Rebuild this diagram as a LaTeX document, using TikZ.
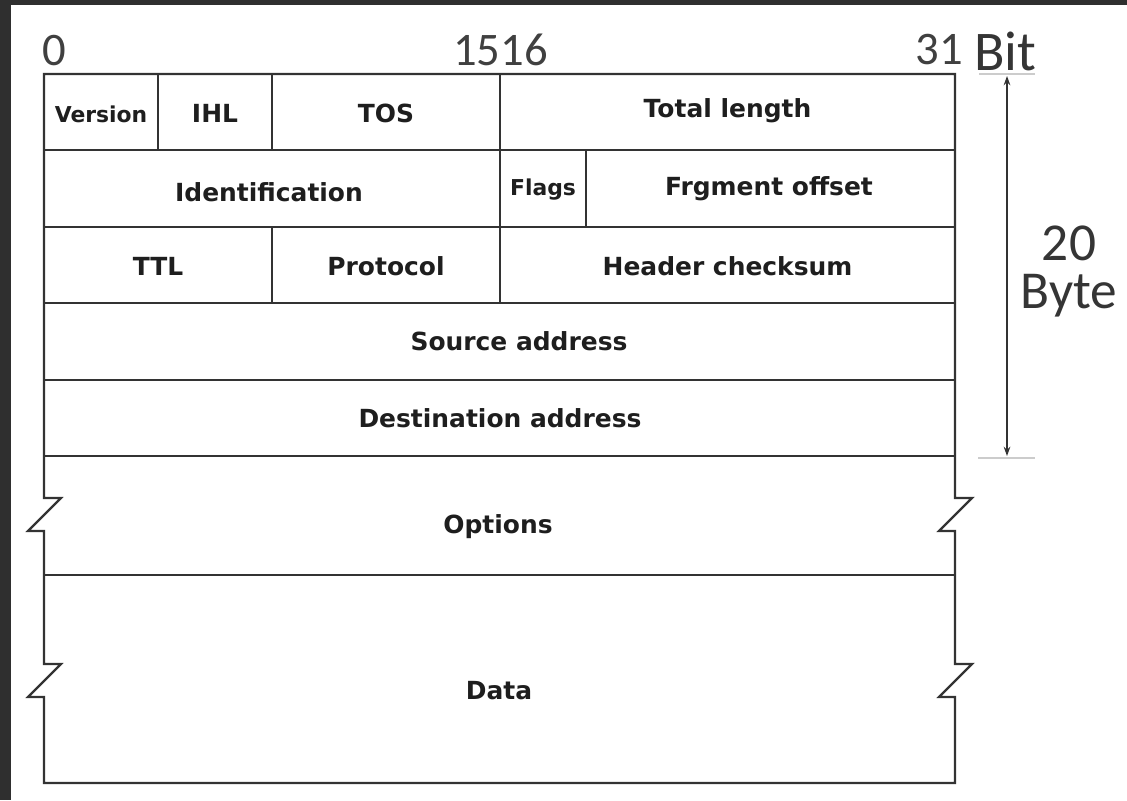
\documentclass[tikz,border=0pt]{standalone}
\usepackage{fontspec}
\setmainfont{DejaVu Sans}
\newfontfamily\calib{Carlito}
\usetikzlibrary{arrows.meta}
\definecolor{framebg}{HTML}{2F2F2F}
\definecolor{linecol}{HTML}{333333}
\definecolor{txtcol}{HTML}{1E1E1E}
\begin{document}
\begin{tikzpicture}[x=0.75pt,y=-0.75pt,
  frame/.style={line width=1.7pt, draw=linecol, line join=miter},
  cell/.style={font=\fontsize{18.7}{22}\selectfont\bfseries, text=txtcol, anchor=base, inner sep=0pt},
  smallcell/.style={font=\fontsize{16.4}{20}\selectfont\bfseries, text=txtcol, anchor=base, inner sep=0pt},
  num/.style={font=\calib\fontsize{35}{40}\selectfont, text=txtcol!85, inner sep=0pt},
  big/.style={font=\calib\fontsize{40}{36}\selectfont, text=txtcol!90, inner sep=0pt},
  tick/.style={line width=0.8pt, draw=black!20},
  dim/.style={line width=1pt, draw=linecol, {Stealth[length=7pt,width=5pt]}-{Stealth[length=7pt,width=5pt]}}
]
\useasboundingbox (0,0) rectangle (1127,800);
\fill[white] (0,0) rectangle (1127,800);
\fill[framebg] (0,0) rectangle (11,800);
\fill[framebg] (0,0) rectangle (1127,5);

% outer frame with break marks
\draw[frame] (44,74) -- (955,74) -- (955,498) -- (972,498) -- (939,531) -- (955,531)
  -- (955,664) -- (972,664) -- (939,697) -- (955,697) -- (955,783) -- (44,783)
  -- (44,697) -- (28,697) -- (61,664) -- (44,664) -- (44,531) -- (28,531) -- (61,498) -- (44,498) -- cycle;

% row lines
\foreach \yy in {150,227,303,380,456,575} \draw[frame] (44,\yy) -- (955,\yy);
% column lines
\draw[frame] (158,74) -- (158,150);
\draw[frame] (272,74) -- (272,150);
\draw[frame] (500,74) -- (500,303);
\draw[frame] (586,150) -- (586,227);
\draw[frame] (272,227) -- (272,303);

% cell texts
\node[smallcell] (version) at (101,122) {Version};
\node[cell] (ihl) at (215,122) {IHL};
\node[cell] (tos) at (386,122) {TOS};
\node[cell] (totlen) at (727.5,117) {Total length};
\node[cell] (ident) at (269,201) {Identification};
\node[smallcell] (flags) at (543,195) {Flags};
\node[cell] (frag) at (769,195) {Frgment offset};
\node[cell] (ttl) at (158,275) {TTL};
\node[cell] (proto) at (386,275) {Protocol};
\node[cell] (hcs) at (727.5,275) {Header checksum};
\node[cell] (src) at (519,350) {Source address};
\node[cell] (dst) at (500,427) {Destination address};
\node[cell] (opt) at (498,533) {Options};
\node[cell] (data) at (499,699) {Data};

% bit labels
\node[num, anchor=base west] (b0) at (42,65) {0};
\node[num, anchor=base] (b1516) at (500.5,65) {1516};
\node[num, anchor=base east] (b31) at (963,64) {31};
\node[big, anchor=base west, font=\calib\fontsize{42}{46}\selectfont] (bit) at (974,70) {Bit};

% size dimension
\draw[tick] (979,74) -- (1035,74);
\draw[tick] (978,458) -- (1035,458);
\coordinate (dtop) at (1007,76);
\coordinate (dbot) at (1007,456);
\draw[dim] (dtop) -- (dbot);
\node[big, align=center, anchor=north] (size) at (1069,226) {20\\Byte};
\end{tikzpicture}
\end{document}
